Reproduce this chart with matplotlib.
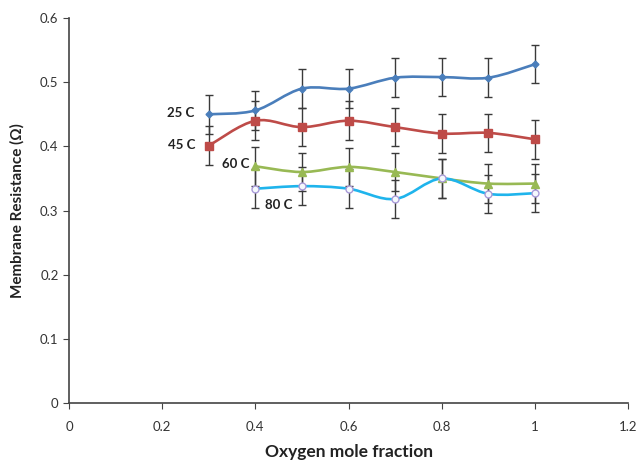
import matplotlib
matplotlib.use("Agg")
import matplotlib.pyplot as plt
import numpy as np
from matplotlib.path import Path
from matplotlib.patches import PathPatch

plt.rcParams['font.family'] = ['Lato', 'DejaVu Sans']

x_all = [0.3, 0.4, 0.5, 0.6, 0.7, 0.8, 0.9, 1.0]
x_sub = [0.4, 0.5, 0.6, 0.7, 0.8, 0.9, 1.0]
r25 = [0.450, 0.456, 0.490, 0.490, 0.507, 0.508, 0.507, 0.528]
r45 = [0.401, 0.440, 0.430, 0.440, 0.430, 0.420, 0.421, 0.411]
r60 = [0.369, 0.360, 0.368, 0.360, 0.350, 0.342, 0.342]
r80 = [0.334, 0.338, 0.334, 0.318, 0.350, 0.326, 0.327]
err = 0.03
labels = ["25 C", "45 C", "60 C", "80 C"]


def smooth_patch(xs, ys, color, lw):
    xs = np.asarray(xs, float); ys = np.asarray(ys, float)
    pts = np.column_stack([xs, ys])
    n = len(pts)
    verts = [pts[0]]
    codes = [Path.MOVETO]
    t = 1.0 / 6.0
    for i in range(n - 1):
        p0 = pts[i - 1] if i > 0 else pts[i]
        p1 = pts[i]
        p2 = pts[i + 1]
        p3 = pts[i + 2] if i + 2 < n else pts[i + 1]
        c1 = p1 + (p2 - p0) * t
        c2 = p2 - (p3 - p1) * t
        verts += [c1, c2, p2]
        codes += [Path.CURVE4] * 3
    return PathPatch(Path(verts, codes), facecolor='none', edgecolor=color, lw=lw, zorder=3)


fig = plt.figure(figsize=(6.37, 4.63), dpi=100)
ax = fig.add_axes([0.1083, 0.1296, 0.8777, 0.8314])

series = [
    (x_all, r25, '#4A7EBB', 'D', 3.5, '#4A7EBB'),
    (x_all, r45, '#BE4B48', 's', 5.5, '#BE4B48'),
    (x_sub, r60, '#98B954', '^', 5.5, '#98B954'),
    (x_sub, r80, '#1FB4EC', 'o', 5, 'none'),
]
for xs, ys, c, m, ms, fc in series:
    ax.errorbar(xs, ys, yerr=err, fmt='none', ecolor='#3a3a3a', elinewidth=1.0,
                capsize=3, capthick=1.0, zorder=2)
for xs, ys, c, m, ms, fc in series:
    ax.add_patch(smooth_patch(xs, ys, c, 1.9))
    ec = '#A99AD8' if fc == 'none' else c
    ax.plot(xs, ys, linestyle='none', marker=m, markersize=ms, color=c,
            markerfacecolor=fc if fc != 'none' else '#F4F8FC', markeredgecolor=ec,
            markeredgewidth=1.0, zorder=4)

tkw = dict(fontsize=9.5, fontweight='bold', color='#222222')
ax.text(0.268, 0.452, labels[0], ha='right', va='center', **tkw)
ax.text(0.272, 0.402, labels[1], ha='right', va='center', **tkw)
ax.text(0.387, 0.373, labels[2], ha='right', va='center', **tkw)
ax.text(0.479, 0.309, labels[3], ha='right', va='center', **tkw)

ax.set_xlim(0, 1.2)
ax.set_ylim(0, 0.6)
ax.set_xticks([0, 0.2, 0.4, 0.6, 0.8, 1.0, 1.2])
ax.set_xticklabels(['0', '0.2', '0.4', '0.6', '0.8', '1', '1.2'])
ax.set_yticks([0, 0.1, 0.2, 0.3, 0.4, 0.5, 0.6])
ax.set_yticklabels(['0', '0.1', '0.2', '0.3', '0.4', '0.5', '0.6'])
for s in ['top', 'right']:
    ax.spines[s].set_visible(False)
for s in ['left', 'bottom']:
    ax.spines[s].set_color('#444444')
    ax.spines[s].set_linewidth(1.2)
ax.tick_params(axis='both', direction='out', length=4, color='#444444', labelsize=9.5,
               labelcolor='#333333')
ax.tick_params(axis='x', pad=9)
ax.set_xlabel('Oxygen mole fraction', fontsize=12.5, fontweight='bold', labelpad=8, color='#222222')
ax.set_ylabel('Membrane Resistance (Ω)', fontsize=11, fontweight='bold', labelpad=11, color='#222222')

fig.savefig('out.png', dpi=100)
